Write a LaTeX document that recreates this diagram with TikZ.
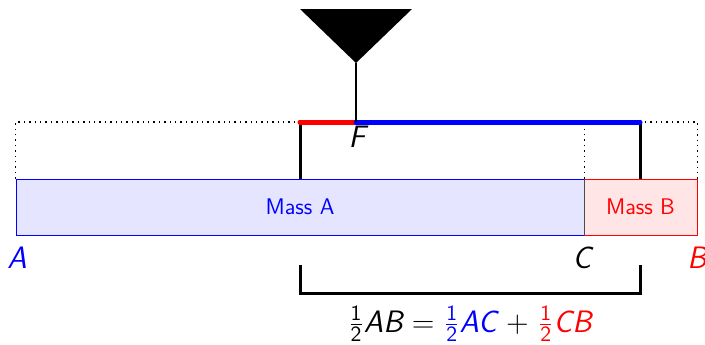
\documentclass[tikz,border=0pt]{standalone}
\usepackage{amsmath}
\renewcommand\familydefault{\sfdefault}
\newcommand\sv[1]{{\itshape #1}}
\newcommand\hlf{$\frac{\text{1}}{\text{2}}$}
\newcommand\opsp[1]{\hspace{0.3em}#1\hspace{0.3em}}
\begin{document}
\begin{tikzpicture}[x=0.5pt,y=-0.5pt,
  massbox/.style={line width=0.5pt, minimum height=28pt, inner sep=0pt, font=\fontsize{11.3}{13}\selectfont},
  hang/.style={line width=1.5pt},
  stem/.style={line width=1pt},
  guide/.style={dotted, line width=0.7pt},
  beamseg/.style={line width=2.5pt, line cap=round},
  lbl/.style={anchor=base, font=\fontsize{15.5}{18}\selectfont, inner sep=0pt}]
\useasboundingbox (0,0) rectangle (705,344);
% masses
\node[massbox, draw=blue, fill=blue!10, text=blue, minimum width=284pt] (ma) at (300,207) {Mass A};
\node[massbox, draw=red, fill=red!10, text=red, minimum width=56.5pt] (mb) at (640.5,207) {Mass B};
\draw[line width=0.5pt, black!70] (ma.north east) -- (ma.south east);
% beam points
\coordinate (pl) at (300,122);
\coordinate (pf) at (356,122);
\coordinate (pr) at (640,122);
\coordinate (apex) at (356,63);
% dotted guides
\draw[guide] (ma.north west) -- (ma.north west |- pl) -- (mb.north east |- pl) -- (mb.north east);
\draw[guide] (ma.north east) -- (ma.north east |- pl);
% hangers
\draw[hang] (pl) -- (pl |- ma.north);
\draw[hang] (pr) -- (pr |- ma.north);
% beam
\draw[beamseg, red] (pl) -- (pf);
\draw[beamseg, blue] (pf) -- (pr);
% fulcrum
\fill (300,9) -- (412,9) -- (apex) -- cycle;
\draw[stem] (apex) -- (pf);
% labels
\node[lbl] (F) at (357,147) {\itshape F};
\node[lbl, text=blue] (A) at (17,268) {\itshape A};
\node[lbl] (C) at (582,268) {\itshape C};
\node[lbl, text=red] (B) at (697,268) {\itshape B};
% bracket
\coordinate (bl) at (300,265);
\coordinate (br) at (640,265);
\draw[hang] (bl) -- (bl |- 0,293) -- (br |- 0,293) -- (br);
% formula
\node[lbl] (eq) at (470,332) {\hlf\sv{AB}\opsp{=}\textcolor{blue}{\hlf\sv{AC}}\opsp{+}\textcolor{red}{\hlf\sv{CB}}};
\end{tikzpicture}
\end{document}
